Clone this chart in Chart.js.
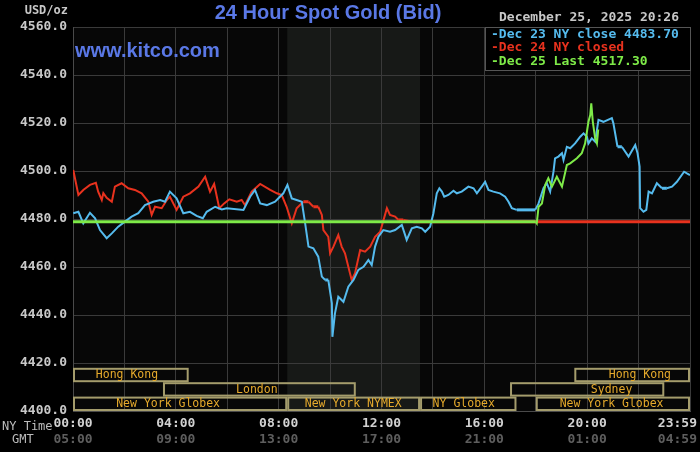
<!DOCTYPE html>
<html>
<head>
<meta charset="utf-8">
<script src="https://cdn.jsdelivr.net/npm/chart.js@4.4.1/dist/chart.umd.min.js"></script>
<style>
  html, body { margin: 0; padding: 0; background: #000; }
  canvas { display: block; }
</style>
</head>
<body>
<canvas id="goldChart" width="700" height="452"></canvas>
<script>
// hours since 00:00 NY time, prices in USD/oz
const dec23Hours = [0.01, 0.21, 0.40, 0.66, 0.86, 1.05, 1.31, 1.51, 1.76, 2.02, 2.28, 2.54, 2.80, 3.12, 3.39, 3.58, 3.77, 4.03, 4.29, 4.55, 4.81, 5.05, 5.20, 5.53, 5.79, 5.98, 6.63, 6.89, 7.08, 7.28, 7.54, 7.86, 8.18, 8.34, 8.51, 8.70, 8.90, 9.03, 9.16, 9.35, 9.54, 9.68, 9.81, 9.93, 10.07, 10.09, 10.19, 10.32, 10.52, 10.71, 10.91, 11.10, 11.30, 11.49, 11.62, 11.75, 11.88, 12.07, 12.33, 12.53, 12.79, 12.98, 13.18, 13.37, 13.57, 13.70, 13.89, 14.02, 14.15, 14.25, 14.35, 14.44, 14.60, 14.80, 14.93, 15.12, 15.38, 15.58, 15.71, 15.90, 16.03, 16.16, 16.35, 16.61, 16.81, 16.94, 17.07, 17.26, 17.65, 17.98, 18.11, 18.30, 18.43, 18.56, 18.69, 18.75, 18.88, 19.02, 19.08, 19.21, 19.34, 19.53, 19.73, 19.86, 19.99, 20.05, 20.18, 20.31, 20.44, 20.63, 20.96, 21.02, 21.18, 21.35, 21.61, 21.87, 21.96, 22.04, 22.06, 22.19, 22.30, 22.39, 22.52, 22.71, 22.91, 23.10, 23.30, 23.49, 23.77, 23.88, 24.0];
const dec23Prices = [4482.4, 4483.0, 4478.2, 4482.6, 4480.3, 4475.4, 4472.0, 4474.0, 4476.8, 4478.9, 4481.0, 4482.4, 4485.8, 4487.2, 4487.9, 4487.2, 4491.4, 4488.6, 4482.4, 4483.0, 4481.3, 4480.3, 4483.0, 4485.1, 4484.0, 4484.5, 4483.8, 4489.3, 4492.1, 4486.5, 4485.8, 4487.2, 4490.7, 4494.2, 4488.6, 4487.9, 4487.2, 4478.2, 4468.5, 4467.8, 4464.3, 4456.0, 4454.6, 4454.6, 4444.9, 4430.9, 4440.7, 4447.6, 4445.5, 4451.8, 4454.6, 4458.8, 4460.1, 4462.9, 4460.8, 4468.5, 4472.6, 4475.4, 4474.7, 4475.4, 4477.5, 4471.3, 4476.1, 4476.8, 4476.1, 4474.7, 4476.8, 4482.4, 4490.7, 4492.8, 4491.4, 4489.3, 4490.0, 4491.8, 4490.7, 4491.4, 4493.5, 4492.8, 4490.7, 4493.5, 4495.5, 4492.1, 4491.4, 4490.7, 4489.3, 4487.2, 4484.5, 4483.8, 4483.8, 4483.8, 4486.5, 4492.8, 4494.9, 4491.4, 4499.7, 4505.3, 4506.0, 4507.4, 4504.6, 4510.1, 4509.5, 4511.5, 4514.3, 4515.7, 4514.3, 4511.5, 4513.6, 4512.2, 4521.3, 4520.5, 4522.0, 4519.9, 4510.1, 4510.1, 4506.0, 4510.8, 4507.4, 4501.8, 4484.5, 4483.0, 4483.8, 4491.4, 4490.7, 4494.9, 4492.8, 4492.8, 4493.5, 4495.5, 4499.7, 4499.0, 4498.3];

const dec24Hours = [0.01, 0.21, 0.40, 0.66, 0.89, 0.98, 1.12, 1.18, 1.31, 1.51, 1.63, 1.89, 2.15, 2.41, 2.67, 2.93, 3.06, 3.19, 3.45, 3.65, 3.77, 4.03, 4.29, 4.55, 4.88, 5.14, 5.33, 5.49, 5.69, 5.88, 6.08, 6.37, 6.56, 6.69, 6.95, 7.28, 7.67, 7.93, 8.12, 8.31, 8.51, 8.70, 8.96, 9.16, 9.35, 9.54, 9.68, 9.74, 9.93, 10.00, 10.13, 10.32, 10.45, 10.58, 10.71, 10.84, 10.97, 11.17, 11.36, 11.56, 11.75, 11.95, 12.21, 12.33, 12.53, 12.66, 12.85, 13.24, 18.0, 24.0];
const dec24Prices = [4500.4, 4490.0, 4492.1, 4494.2, 4495.1, 4491.4, 4487.9, 4490.8, 4488.8, 4487.2, 4493.5, 4494.9, 4492.8, 4492.1, 4490.7, 4487.2, 4481.7, 4485.1, 4484.5, 4487.9, 4489.3, 4483.8, 4489.3, 4490.7, 4493.5, 4497.6, 4491.4, 4494.6, 4484.5, 4486.5, 4488.2, 4487.2, 4487.9, 4485.8, 4491.4, 4494.6, 4492.1, 4490.7, 4490.0, 4485.1, 4478.2, 4484.5, 4487.2, 4487.2, 4485.1, 4485.1, 4481.7, 4475.4, 4472.6, 4465.7, 4468.5, 4473.3, 4468.5, 4465.7, 4460.1, 4454.6, 4457.4, 4467.1, 4466.4, 4468.5, 4472.6, 4474.7, 4484.5, 4481.7, 4481.0, 4479.6, 4479.6, 4478.9, 4478.9, 4478.9];

const dec25Hours = [0.0, 18.0, 18.04, 18.11, 18.24, 18.37, 18.49, 18.63, 18.82, 19.02, 19.21, 19.34, 19.60, 19.79, 19.92, 20.05, 20.12, 20.16, 20.22, 20.31, 20.38, 20.43];
const dec25Prices = [4478.9, 4478.9, 4478.2, 4485.1, 4486.5, 4494.2, 4497.0, 4493.5, 4497.6, 4493.5, 4502.5, 4503.2, 4505.3, 4507.4, 4511.5, 4520.5, 4523.3, 4528.2, 4520.5, 4513.6, 4511.5, 4517.3];

const legendLabels = ["-Dec 23 NY close 4483.70", "-Dec 24 NY closed", "-Dec 25 Last 4517.30"];
const nyTickHours = [0, 4, 8, 12, 16, 20, 24];
const nyTickLabels = ["00:00", "04:00", "08:00", "12:00", "16:00", "20:00", "23:59"];
const gmtTickLabels = ["05:00", "09:00", "13:00", "17:00", "21:00", "01:00", "04:59"];

// trading sessions along the bottom (row 0 = top row)
const sessions = [
  { name: "Hong Kong", start: 0, end: 4.5, row: 0, labelAt: 2.1 },
  { name: "Hong Kong", start: 19.5, end: 24, row: 0, labelAt: 22.05 },
  { name: "London", start: 3.5, end: 11, row: 1, labelAt: 7.15 },
  { name: "Sydney", start: 17, end: 23, row: 1, labelAt: 20.95 },
  { name: "New York Globex", start: 0, end: 8.333, row: 2, labelAt: 3.7 },
  { name: "New York NYMEX", start: 8.333, end: 13.5, row: 2, labelAt: 10.9 },
  { name: "NY Globex", start: 13.5, end: 17.25, row: 2, labelAt: 15.2 },
  { name: "New York Globex", start: 18, end: 24, row: 2, labelAt: 20.95 },
];
const sessionRowTops = [4418, 4412, 4406];
const sessionRowHeight = 6;
const nymexPit = [8.333, 13.5];

const COLORS = {
  blue: "#55bbee",
  red: "#e8321e",
  green: "#7eea48",
  title: "#5a78e6",
  grid: "#3a3a3a",
  text: "#c8c8c8",
};

const MONO = "'DejaVu Sans Mono', monospace";
const SANS = "'Liberation Sans', Arial, sans-serif";

const toPoints = (hours, prices) => hours.map((h, i) => ({ x: h, y: prices[i] }));
const flatWidth = (ctx) => (ctx.p0.parsed.y === ctx.p1.parsed.y ? 3 : 2);

const backdrop = {
  id: "backdrop",
  beforeDraw(chart) {
    const c = chart.ctx;
    const a = chart.chartArea;
    const x = chart.scales.x;
    c.save();
    c.fillStyle = "#000";
    c.fillRect(0, 0, chart.width, chart.height);
    c.fillStyle = "#070707";
    c.fillRect(a.left, a.top, a.right - a.left, a.bottom - a.top);
    // NYMEX pit hours shading
    const x0 = x.getPixelForValue(nymexPit[0]);
    const x1 = x.getPixelForValue(nymexPit[1]);
    c.fillStyle = "#171917";
    c.fillRect(x0, a.top, x1 - x0, a.bottom - a.top);
    c.restore();
  },
};

const sessionBoxes = {
  id: "sessionBoxes",
  afterDatasetsDraw(chart) {
    const c = chart.ctx;
    const x = chart.scales.x;
    const y = chart.scales.y;
    c.save();
    c.lineWidth = 2;
    c.strokeStyle = "#a49c6c";
    c.font = "11.5px " + MONO;
    c.fillStyle = "#e6aa2c";
    c.textAlign = "center";
    c.textBaseline = "middle";
    for (const s of sessions) {
      const top = y.getPixelForValue(sessionRowTops[s.row]);
      const bot = y.getPixelForValue(sessionRowTops[s.row] - sessionRowHeight);
      const l = x.getPixelForValue(s.start);
      const r = x.getPixelForValue(s.end);
      c.strokeRect(l + 1, top + 1, r - l - 2, bot - top - 2);
      c.fillText(s.name, x.getPixelForValue(s.labelAt), (top + bot) / 2 + 0.5);
    }
    c.restore();
  },
};

const annotations = {
  id: "annotations",
  afterDraw(chart) {
    const c = chart.ctx;
    const x = chart.scales.x;
    const a = chart.chartArea;
    c.save();
    // title and site name
    c.fillStyle = COLORS.title;
    c.font = "bold 20px " + SANS;
    c.textAlign = "center";
    c.textBaseline = "alphabetic";
    c.fillText("24 Hour Spot Gold (Bid)", 328, 19);
    c.textAlign = "left";
    c.fillText("www.kitco.com", 75, 57);

    c.fillStyle = COLORS.text;
    c.font = "bold 12px " + MONO;
    c.textAlign = "right";
    c.textBaseline = "middle";
    c.fillText("USD/oz", 68, 11);

    c.font = "bold 13px " + MONO;
    c.textAlign = "left";
    c.fillText("December 25, 2025 20:26", 499, 18);

    // legend box
    c.fillStyle = "#000";
    c.fillRect(485, a.top, a.right - 485, 43);
    c.strokeStyle = "#555";
    c.lineWidth = 1;
    c.strokeRect(485.5, a.top + 0.5, a.right - 485, 43);
    const legendColors = [COLORS.blue, COLORS.red, COLORS.green];
    legendLabels.forEach((t, i) => {
      c.fillStyle = legendColors[i];
      c.fillText(t, 491, 34.5 + i * 13.5);
    });

    // time axis labels
    c.font = "bold 13px " + MONO;
    nyTickHours.forEach((h, i) => {
      const px = x.getPixelForValue(h);
      const last = i === nyTickHours.length - 1;
      c.textAlign = last ? "right" : "center";
      const tx = last ? px + 7 : px;
      c.fillStyle = "#d2d2d2";
      c.fillText(nyTickLabels[i], tx, 423.5);
      c.fillStyle = "#5e5e5e";
      c.fillText(gmtTickLabels[i], tx, 439.5);
    });
    c.font = "12px " + MONO;
    c.fillStyle = "#bdbdbd";
    c.textAlign = "left";
    c.fillText("NY Time", 2, 426.5);
    c.fillText("GMT", 12, 439.5);
    c.restore();
  },
};

const ctx = document.getElementById("goldChart").getContext("2d");

new Chart(ctx, {
  type: "line",
  data: {
    datasets: [
      {
        label: "Dec 24",
        data: toPoints(dec24Hours, dec24Prices),
        borderColor: COLORS.red,
        borderWidth: 2,
        segment: { borderWidth: flatWidth },
        order: 3,
      },
      {
        label: "Dec 23",
        data: toPoints(dec23Hours, dec23Prices),
        borderColor: COLORS.blue,
        borderWidth: 2,
        segment: { borderWidth: flatWidth },
        order: 2,
      },
      {
        label: "Dec 25",
        data: toPoints(dec25Hours, dec25Prices),
        borderColor: COLORS.green,
        borderWidth: 2,
        segment: { borderWidth: flatWidth },
        order: 1,
      },
    ],
  },
  options: {
    responsive: false,
    animation: false,
    devicePixelRatio: 1,
    layout: { padding: { top: 27, right: 10, bottom: 0, left: 0 } },
    elements: { point: { radius: 0 }, line: { tension: 0 } },
    plugins: {
      legend: { display: false },
      tooltip: { enabled: false },
    },
    scales: {
      x: {
        type: "linear",
        min: 0,
        max: 24,
        ticks: { stepSize: 2, display: false },
        grid: { color: COLORS.grid, drawTicks: false },
        border: { color: "#4a4a4a" },
        afterFit: (scale) => {
          scale.height = 41;
          scale.paddingLeft = 0;
          scale.paddingRight = 0;
        },
      },
      y: {
        min: 4400,
        max: 4560,
        ticks: {
          stepSize: 20,
          padding: 6,
          color: COLORS.text,
          font: { family: "DejaVu Sans Mono", size: 13, weight: "bold" },
          callback: (v) => v.toFixed(1),
        },
        grid: { color: COLORS.grid, drawTicks: false },
        border: { color: "#4a4a4a" },
        afterFit: (scale) => {
          scale.width = 73;
        },
      },
    },
  },
  plugins: [backdrop, sessionBoxes, annotations],
});
</script>
</body>
</html>
